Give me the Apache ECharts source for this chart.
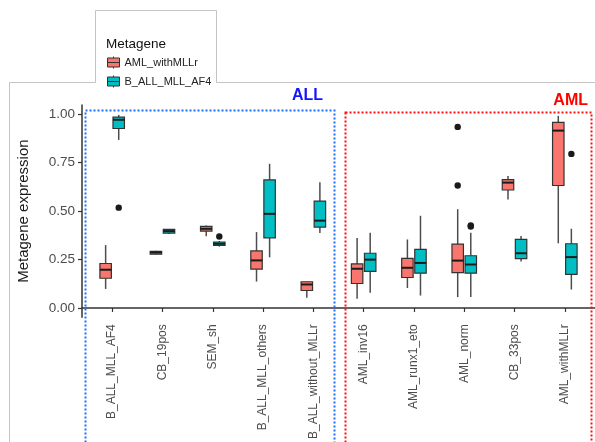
<!DOCTYPE html>
<html>
<head>
<meta charset="utf-8">
<script src="https://cdn.jsdelivr.net/npm/echarts@6/dist/echarts.min.js"></script>
<style>html,body{margin:0;padding:0;background:#fff}#c{width:595px;height:442px}</style>
</head>
<body>
<div id="c"></div>
<script>
const categories = ['B_ALL_MLL_AF4','CB_19pos','SEM_sh','B_ALL_MLL_others','B_ALL_without_MLLr','AML_inv16','AML_runx1_eto','AML_norm','CB_33pos','AML_withMLLr'];
// each row: [min, Q1, median, Q3, max]
const amlWithMLLr = [
  [0.098,0.153,0.197,0.229,0.324],
  [0.274,0.277,0.286,0.292,0.295],
  [0.370,0.396,0.408,0.420,0.425],
  [0.136,0.200,0.245,0.294,0.391],
  [0.053,0.090,0.121,0.135,0.137],
  [0.048,0.126,0.202,0.227,0.361],
  [0.103,0.157,0.207,0.256,0.353],
  [0.056,0.182,0.244,0.329,0.509],
  [0.559,0.608,0.646,0.661,0.680],
  [0.333,0.631,0.914,0.956,0.990]
];
const bAllMllAf4 = [
  [0.866,0.925,0.970,0.983,0.995],
  [0.381,0.386,0.396,0.405,0.407],
  [0.316,0.322,0.331,0.340,0.345],
  [0.261,0.361,0.485,0.660,0.743],
  [0.386,0.417,0.450,0.551,0.648],
  [0.078,0.188,0.249,0.282,0.388],
  [0.064,0.179,0.232,0.302,0.475],
  [0.056,0.179,0.224,0.269,0.388],
  [0.240,0.254,0.282,0.353,0.371],
  [0.095,0.173,0.262,0.331,0.408]
];
// outliers: [category index, value]
const amlOutliers = [[7,0.933],[7,0.631]];
const bAllOutliers = [[0,0.517],[2,0.368],[7,0.420],[7,0.425],[9,0.794]];
const yTicks = [0, 0.25, 0.5, 0.75, 1];
const seriesNames = ['AML_withMLLr','B_ALL_MLL_AF4'];
const seriesColors = ['#F8766D','#00BFC4'];
const catPositions = categories.map((c,i)=>i+1);

const chart = echarts.init(document.getElementById('c'), null, {renderer:'canvas'});

function boxRender(side, fill){
  return function(params, api){
    const x = api.value(0);
    const band = api.size([1,0])[0];
    const off = side*0.13*band;
    const half = 0.114*band;
    const pMin = api.coord([x, api.value(1)]);
    const pQ1 = api.coord([x, api.value(2)]);
    const pMed = api.coord([x, api.value(3)]);
    const pQ3 = api.coord([x, api.value(4)]);
    const pMax = api.coord([x, api.value(5)]);
    const cx = pMin[0] + off;
    const ws = {stroke:'#4d4d4d', lineWidth:1.5};
    return {type:'group', children:[
      {type:'line', shape:{x1:cx,y1:pMax[1],x2:cx,y2:pQ3[1]}, style:ws},
      {type:'line', shape:{x1:cx,y1:pQ1[1],x2:cx,y2:pMin[1]}, style:ws},
      {type:'rect', shape:{x:cx-half,y:pQ3[1],width:2*half,height:Math.max(pQ1[1]-pQ3[1],1)}, style:{fill:fill, stroke:'#333', lineWidth:1.2}},
      {type:'line', shape:{x1:cx-half,y1:pMed[1],x2:cx+half,y2:pMed[1]}, style:{stroke:'#1a1a1a', lineWidth:2}}
    ]};
  };
}
function outlierRender(side){
  return function(params, api){
    const x = api.value(0);
    const band = api.size([1,0])[0];
    const p = api.coord([x, api.value(1)]);
    return {type:'circle', shape:{cx:p[0]+side*0.13*band, cy:p[1], r:3.2}, style:{fill:'#1a1a1a'}};
  };
}

const legendIcon = 'path://M6,0L6,1.5M0,1.5L12,1.5L12,10.5L0,10.5ZM0,6L12,6M6,10.5L6,12';

const option = {
  animation:false,
  backgroundColor:'#fff',
  textStyle:{fontFamily:'Liberation Sans, Arial, sans-serif'},
  title:{text:'Metagene', left:101, top:32, textStyle:{fontSize:13.5, fontWeight:'normal', color:'#111', fontFamily:'Liberation Sans, Arial, sans-serif'}},
  legend:{
    orient:'vertical', left:107, top:56, padding:0, itemWidth:12, itemHeight:12, itemGap:6,
    textStyle:{fontSize:11, color:'#222', fontFamily:'Liberation Sans, Arial, sans-serif'},
    data:seriesNames.map((n,i)=>({name:n, icon:legendIcon, itemStyle:{color:seriesColors[i], borderColor:'#333', borderWidth:1}}))
  },
  grid:{left:82, right:0, top:105, bottom:120, containLabel:false},
  xAxis:{
    type:'value', min:0.4, max:10.6,
    axisLine:{show:true, lineStyle:{color:'#333', width:1.5}},
    axisTick:{show:true, length:4, customValues:catPositions, lineStyle:{color:'#333', width:1.2}},
    axisLabel:{show:true, rotate:90, margin:7, fontSize:12, color:'#4d4d4d', customValues:catPositions,
      formatter:(v)=>categories[Math.round(v)-1] || ''},
    splitLine:{show:false}
  },
  yAxis:{
    type:'value', min:-0.048, max:1.046,
    name:'Metagene expression', nameLocation:'middle', nameGap:51,
    nameTextStyle:{fontSize:15, color:'#1a1a1a', fontFamily:'Liberation Sans, Arial, sans-serif'},
    axisLine:{show:true, lineStyle:{color:'#333', width:1.5}},
    axisTick:{show:true, length:4, customValues:yTicks, lineStyle:{color:'#333', width:1.2}},
    axisLabel:{show:true, margin:7, fontSize:13.5, color:'#4d4d4d', customValues:yTicks, formatter:(v)=>v.toFixed(2)},
    splitLine:{show:false}
  },
  graphic:[
    {type:'polyline', z:0, shape:{points:[[9.5,442],[9.5,82.5],[95.5,82.5],[95.5,10.5],[216.5,10.5],[216.5,82.5],[595,82.5]]}, style:{stroke:'#c4c4c4', lineWidth:1, fill:null}},
    {type:'rect', z:100, shape:{x:85.5,y:110.5,width:249,height:345}, style:{fill:null, stroke:'#1f6fff', lineWidth:2, lineDash:[2,2]}},
    {type:'rect', z:100, shape:{x:345.5,y:112.5,width:246,height:345}, style:{fill:null, stroke:'#ff1010', lineWidth:2, lineDash:[2,2]}},
    {type:'text', z:100, style:{text:'ALL', x:323, y:88, align:'right', verticalAlign:'top', fill:'#1414ff', font:'bold 16px Liberation Sans, Arial, sans-serif'}},
    {type:'text', z:100, style:{text:'AML', x:588, y:93, align:'right', verticalAlign:'top', fill:'#ff0000', font:'bold 16px Liberation Sans, Arial, sans-serif'}}
  ],
  series:[
    {type:'custom', name:seriesNames[0], renderItem:boxRender(-1, seriesColors[0]), itemStyle:{color:seriesColors[0]},
      encode:{x:0, y:[1,2,3,4,5]}, data:amlWithMLLr.map((b,i)=>[catPositions[i], ...b])},
    {type:'custom', name:seriesNames[1], renderItem:boxRender(1, seriesColors[1]), itemStyle:{color:seriesColors[1]},
      encode:{x:0, y:[1,2,3,4,5]}, data:bAllMllAf4.map((b,i)=>[catPositions[i], ...b])},
    {type:'custom', name:seriesNames[0], renderItem:outlierRender(-1), itemStyle:{color:seriesColors[0]},
      encode:{x:0, y:1}, data:amlOutliers.map(o=>[catPositions[o[0]], o[1]])},
    {type:'custom', name:seriesNames[1], renderItem:outlierRender(1), itemStyle:{color:seriesColors[1]},
      encode:{x:0, y:1}, data:bAllOutliers.map(o=>[catPositions[o[0]], o[1]])}
  ]
};
chart.setOption(option);
</script>
</body>
</html>
